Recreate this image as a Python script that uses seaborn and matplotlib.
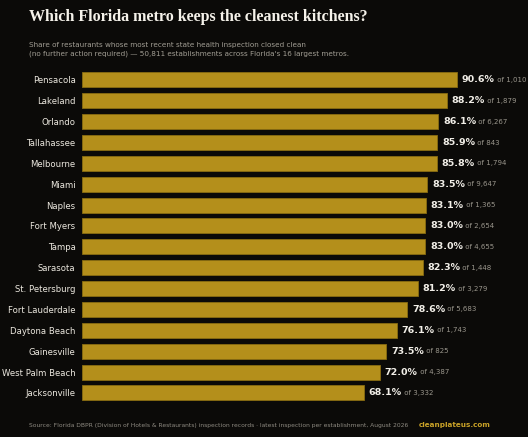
import matplotlib
matplotlib.use("Agg")
import matplotlib.pyplot as plt
import seaborn as sns
import pandas as pd

metros = ["Pensacola","Lakeland","Orlando","Tallahassee","Melbourne","Miami","Naples","Fort Myers",
          "Tampa","Sarasota","St. Petersburg","Fort Lauderdale","Daytona Beach","Gainesville",
          "West Palm Beach","Jacksonville"]
clean_pct = [90.6,88.2,86.1,85.9,85.8,83.5,83.1,83.0,83.0,82.3,81.2,78.6,76.1,73.5,72.0,68.1]
counts = ["1,010","1,879","6,267","843","1,794","9,647","1,365","2,654","4,655","1,448","3,279",
          "5,683","1,743","825","4,387","3,332"]

df = pd.DataFrame({"metro": metros, "pct": clean_pct})
BG = "#0b0a08"
sns.set_theme(style="white")
fig = plt.figure(figsize=(5.28, 4.37), dpi=100, facecolor=BG)
ax = fig.add_axes([0.155, 0.077, 0.784, 0.764], facecolor=BG)
sns.barplot(data=df, y="metro", x="pct", color="#b48f1b", saturation=1, width=0.72,
            edgecolor="#8a6d12", linewidth=0.6, ax=ax)
ax.set_xlim(0, 100)
ax.set_ylim(15.5, -0.5)
ax.set_xlabel(""); ax.set_ylabel("")
ax.set_xticks([])
for s in ax.spines.values():
    s.set_visible(False)
ax.tick_params(axis="y", length=0, pad=4.5, labelsize=6.1, labelcolor="#ece8df")
for i, (p, c) in enumerate(zip(clean_pct, counts)):
    t = ax.annotate(f"{p:.1f}%", (p, i), xytext=(3.5, 0), textcoords="offset points",
                    va="center", ha="left", fontsize=6.8, fontweight="bold", color="#f2efe8")
    ax.annotate(f" of {c}", (1, 0.5), xycoords=t, va="center", ha="left",
                fontsize=5.0, color="#9a968c")
fig.text(0.055, 0.962, "Which Florida metro keeps the cleanest kitchens?", fontsize=11.5,
         fontweight="bold", family="Liberation Serif", color="#f5f2ea", va="center")
fig.text(0.055, 0.887, "Share of restaurants whose most recent state health inspection closed clean\n"
         "(no further action required) — 50,811 establishments across Florida's 16 largest metros.",
         fontsize=5.2, color="#a29e94", va="center", linespacing=1.5)
fig.text(0.055, 0.027, "Source: Florida DBPR (Division of Hotels & Restaurants) inspection records · latest inspection per establishment, August 2026",
         fontsize=4.35, color="#8f8b82", va="center")
fig.text(0.93, 0.027, "cleanplateus.com", fontsize=5.2, fontweight="bold", color="#c9a227",
         va="center", ha="right")
fig.savefig("out.png", facecolor=BG)
